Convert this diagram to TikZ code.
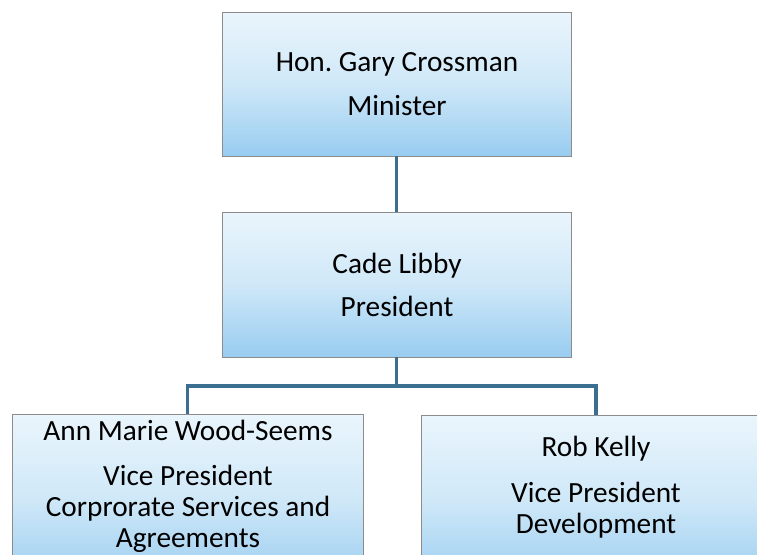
\documentclass[tikz,border=0pt]{standalone}
\usepackage{fontspec}
\setmainfont{Carlito}
\frenchspacing
\begin{document}
\begin{tikzpicture}[x=1pt,y=-1pt,
  box/.style={draw=black!45, line width=0.8pt, rectangle, inner sep=0pt,
    top color=boxtop, bottom color=boxbot, middle color=boxmid},
  lbl/.style={anchor=base, inner sep=0pt, font=\fontsize{29.3}{34}\selectfont},
  conn/.style={draw=connblue, line width=3.6pt}]
\definecolor{boxtop}{HTML}{EAF5FC}
\definecolor{boxmid}{HTML}{CFE8F8}
\definecolor{boxbot}{HTML}{98CCF0}
\definecolor{connblue}{HTML}{3C6E92}
\useasboundingbox (0,0) rectangle (757,554);
\fill[white] (0,0) rectangle (757,554);
% boxes
\node[box, minimum width=349pt, minimum height=144pt] (top) at (396.5,84) {};
\node[box, minimum width=349pt, minimum height=145pt] (mid) at (396.5,284.5) {};
\node[box, minimum width=351pt, minimum height=172pt] (left) at (187.5,500) {};
\node[box, minimum width=354pt, minimum height=172pt] (right) at (598,501) {};
% connectors
\coordinate (bus) at (396.5,386);
\draw[conn] (top.south) -- (mid.north);
\draw[conn] (mid.south) -- (bus);
\draw[conn] (bus) -| (left.north);
\draw[conn] (bus) -| ([xshift=-2pt]right.north);
% texts
\node[lbl] (t1) at (397,71) {Hon.\ Gary Crossman};
\node[lbl] (t2) at (397,115) {Minister};
\node[lbl] (m1) at (397,273) {Cade Libby};
\node[lbl] (m2) at (397,316) {President};
\node[lbl] (l1) at (188,440) {Ann Marie Wood-Seems};
\node[lbl] (l2) at (188,485) {Vice President};
\node[lbl] (l3) at (188,516) {Corprorate Services and};
\node[lbl] (l4) at (188,547) {Agreements};
\node[lbl] (r1) at (596,456) {Rob Kelly};
\node[lbl] (r2) at (596,502) {Vice President};
\node[lbl] (r3) at (596,533) {Development};
\end{tikzpicture}
\end{document}
